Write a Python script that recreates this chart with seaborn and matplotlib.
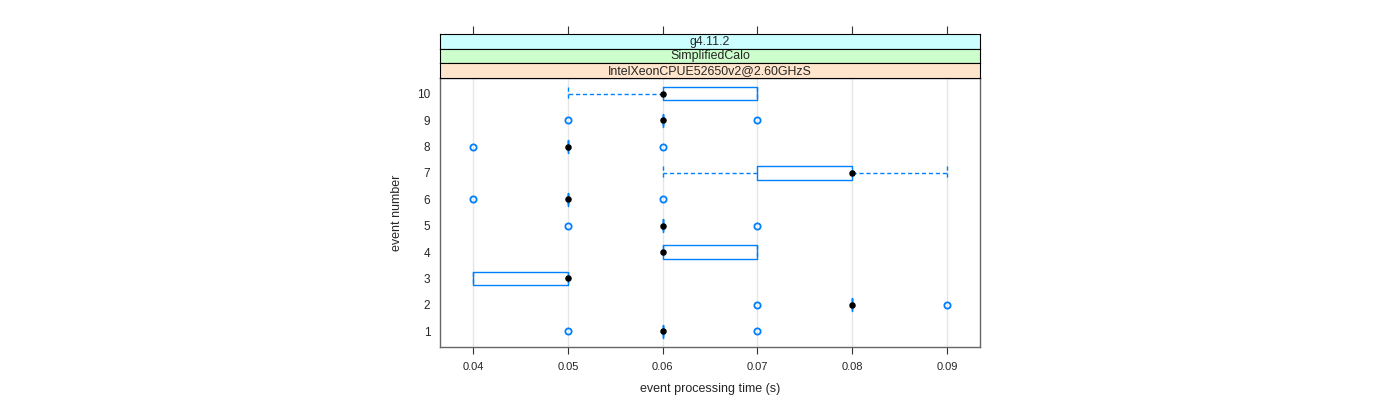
import numpy as np
import pandas as pd
import matplotlib
matplotlib.use('Agg')
import matplotlib.pyplot as plt
import seaborn as sns

events = ['1', '2', '3', '4', '5', '6', '7', '8', '9', '10']
times = {
    '1':  [0.05] + [0.06] * 8 + [0.07],
    '2':  [0.07] + [0.08] * 8 + [0.09],
    '3':  [0.04] * 4 + [0.05] * 6,
    '4':  [0.06] * 6 + [0.07] * 4,
    '5':  [0.05] + [0.06] * 8 + [0.07],
    '6':  [0.04] + [0.05] * 8 + [0.06],
    '7':  [0.06] + [0.07] * 3 + [0.08] * 5 + [0.09],
    '8':  [0.04] + [0.05] * 8 + [0.06],
    '9':  [0.05] + [0.06] * 8 + [0.07],
    '10': [0.05] + [0.06] * 5 + [0.07] * 4,
}
strip_labels = ['g4.11.2', 'SimplifiedCalo', 'IntelXeonCPUE52650v2@2.60GHzS']
strip_colors = ['#ccffff', '#ccffcc', '#ffe5cc']
xticks = [0.04, 0.05, 0.06, 0.07, 0.08, 0.09]

rows = []
for ev in events:
    for t in times[ev]:
        rows.append({'event': ev, 'time': round(t, 4)})
df = pd.DataFrame(rows)
order = events[::-1]

sns.set_style('white')
plt.rcParams['font.family'] = ['Liberation Sans', 'DejaVu Sans']

blue = '#0080ff'
fig = plt.figure(figsize=(14, 4), dpi=100)
W, H = 1400, 400
ax = fig.add_axes([440 / W, 1 - 347 / H, 540 / W, 269 / H])

for xt in xticks:
    ax.axvline(xt, color='#e6e6e6', lw=1, zorder=0)

sns.boxplot(data=df, x='time', y='event', order=order, orient='h', ax=ax,
            width=0.5, whis=1.5, fill=False, linecolor=blue, linewidth=1,
            boxprops=dict(color=blue, linewidth=1),
            whiskerprops=dict(linestyle=(0, (3, 2)), color=blue),
            capprops=dict(linestyle=(0, (3, 2)), color=blue),
            medianprops=dict(visible=False),
            flierprops=dict(marker='o', markersize=4.5, markerfacecolor='none',
                            markeredgecolor=blue, markeredgewidth=1.3),
            capwidths=0.5)

med = df.groupby('event', sort=False)['time'].median().reset_index()
sns.scatterplot(data=med, x='time', y='event', ax=ax, color='black', s=22,
                edgecolor='black', linewidth=0, zorder=5)

ax.set_xlim(0.0365, 0.0935)
ax.set_ylim(9.6, -0.6)
ax.set_xticks(xticks)
ax.set_xticklabels([f'{v:.2f}' for v in xticks], fontsize=8)
ax.set_yticks(range(len(order)))
ax.set_yticklabels(order, fontsize=8.5)
ax.tick_params(axis='x', direction='out', length=5, width=0.8, color='#333333', pad=6, bottom=True)
ax.tick_params(axis='y', length=0, pad=7)
ax.set_xlabel('event processing time (s)', fontsize=9, labelpad=8)
ax.set_ylabel('event number', fontsize=9, labelpad=10)
for s in ax.spines.values():
    s.set_color('#666666')
    s.set_linewidth(1)

# strips on top of the panel
strip_h = 14.5
for i, (lab, col) in enumerate(zip(strip_labels, strip_colors)):
    top = 34 + i * strip_h
    sax = fig.add_axes([440 / W, 1 - (top + strip_h) / H, 540 / W, strip_h / H])
    sax.set_facecolor(col)
    sax.set_xlim(0.0365, 0.0935)
    sax.set_ylim(0, 1)
    sax.text(0.5, 0.45, lab, transform=sax.transAxes, ha='center', va='center', fontsize=8.9)
    for s in sax.spines.values():
        s.set_color('#000000')
        s.set_linewidth(0.8)
    sax.set_yticks([])
    if i == 0:
        sax.set_xticks(xticks)
        sax.tick_params(axis='x', top=True, bottom=False, labeltop=False, labelbottom=False,
                        direction='out', length=6, width=0.8, color='#333333')
    else:
        sax.set_xticks([])

fig.savefig('out.png', dpi=100)
